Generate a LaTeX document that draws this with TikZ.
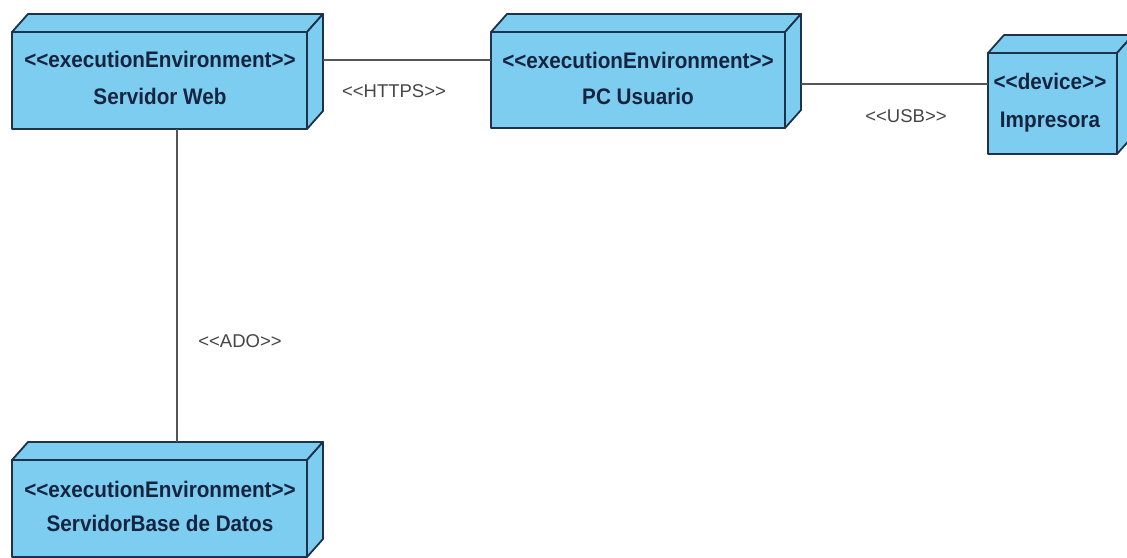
\documentclass[tikz,border=0pt]{standalone}
\usepackage{fontspec}
\setmainfont{Liberation Sans}
\newfontfamily\boxfont{Liberation Sans}[FakeStretch=0.92]
\definecolor{nodefill}{RGB}{125,205,240}
\definecolor{nodeedge}{RGB}{30,50,75}
\definecolor{nodetext}{RGB}{22,36,64}
\definecolor{wire}{RGB}{85,85,85}
\definecolor{wiretext}{RGB}{70,70,70}
% stereotype brackets as two plain angle signs each
\newcommand\stype[1]{<\kern0pt<#1>\kern0pt>}
% 3D deployment box: name, x, y (front top-left), width, height
\newcommand\devbox[5]{%
  \draw[face] (#2,#3) -- ++(16,-18) -- ++(#4,0) -- ++(-16,18) -- cycle;
  \draw[face] (#2+#4,#3) -- ++(16,-18) -- ++(0,#5) -- ++(-16,18) -- cycle;
  \node[front, minimum width=#4pt, minimum height=#5pt] (#1) at (#2,#3) {};
  \coordinate (#1-back) at (#2+#4+16,#3-18);
  \coordinate (#1-top) at (#2+16,#3-18);
}
\begin{document}
\begin{tikzpicture}[x=1pt,y=-1pt,
  face/.style={fill=nodefill, draw=nodeedge, line width=1.8pt, line join=round},
  front/.style={face, rectangle, inner sep=0pt, outer sep=0pt, anchor=north west},
  stereo/.style={anchor=base, text=nodetext, font=\boxfont\bfseries\fontsize{22.5}{22.5}\selectfont, inner sep=0pt},
  link/.style={draw=wire, line width=1.8pt},
  linklabel/.style={anchor=base, text=wiretext, font=\fontsize{18.5}{18.5}\selectfont, inner sep=0pt}]
\useasboundingbox[fill=white] (0,0) rectangle (1127,557);

% nodes
\devbox{web}{12}{32}{295}{97}
\devbox{pc}{491}{32}{294}{96}
\devbox{imp}{988}{53}{129}{101}
\devbox{db}{12}{460}{295}{97}

\node[stereo] (web-st) at (160,67) {\stype{executionEnvironment}};
\node[stereo] (web-name) at (160,104) {Servidor Web};
\node[stereo] (pc-st) at (638,68) {\stype{executionEnvironment}};
\node[stereo] (pc-name) at (638,104) {PC Usuario};
\node[stereo] (imp-st) at (1050,89) {\stype{device}};
\node[stereo] (imp-name) at (1050,127) {Impresora};
\node[stereo] (db-st) at (160,497) {\stype{executionEnvironment}};
\node[stereo] (db-name) at (160,531) {ServidorBase de Datos};

% connectors
\draw[link] (web-back |- 0,60) -- (pc.west |- 0,60);
\draw[link] (pc-back |- 0,84) -- (imp.west |- 0,84);
\draw[link] (web.south -| 177,0) -- (db-top -| 177,0);

\node[linklabel] (l-https) at (394,97) {\stype{HTTPS}};
\node[linklabel] (l-usb) at (906,122) {\stype{USB}};
\node[linklabel] (l-ado) at (240,347) {\stype{ADO}};
\end{tikzpicture}
\end{document}
